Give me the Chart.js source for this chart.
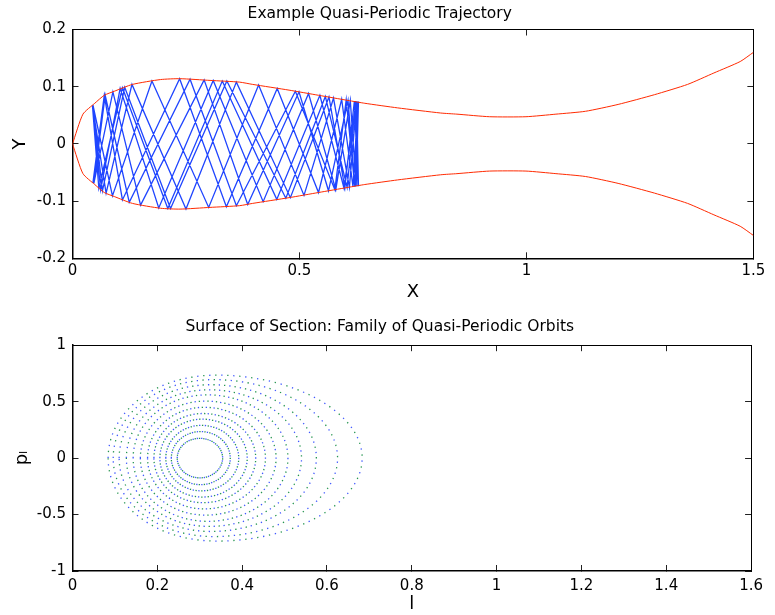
<!DOCTYPE html>
<html>
<head>
<meta charset="utf-8">
<script src="https://cdn.jsdelivr.net/npm/chart.js@4.4.1/dist/chart.umd.min.js"></script>
<style>
  body { margin: 0; background: #fff; }
  #wrap { position: relative; width: 775px; height: 615px; }
  .box { position: absolute; left: 0; width: 775px; }
  #topBox { top: 0; height: 310px; }
  #botBox { top: 310px; height: 305px; }
</style>
</head>
<body>
<div id="wrap">
  <div class="box" id="topBox"><canvas id="trajChart"></canvas></div>
  <div class="box" id="botBox"><canvas id="sectionChart"></canvas></div>
</div>
<script>
// upper wall of the channel (lower wall is the mirror image)
const wallX = [0, 0.023, 0.049, 0.070, 0.092, 0.132, 0.194, 0.237, 0.303, 0.368, 0.397, 0.477, 0.542, 0.607, 0.644, 0.716, 0.811, 0.847, 0.919, 0.999, 1.065, 1.130, 1.202, 1.282, 1.355, 1.413, 1.471, 1.5];
const wallY = [0, 0.052, 0.071, 0.085, 0.092, 0.104, 0.1125, 0.114, 0.111, 0.108, 0.104, 0.094, 0.085, 0.076, 0.071, 0.063, 0.054, 0.052, 0.0475, 0.0475, 0.052, 0.057, 0.069, 0.086, 0.104, 0.124, 0.144, 0.16];

// trajectory: bounce points on the walls, in order
const trajX = [
  0.045, 0.070, 0.110, 0.236, 0.339, 0.451, 0.542, 0.593, 0.618, 0.629,
  0.622, 0.607, 0.564, 0.499, 0.386, 0.290, 0.150, 0.089, 0.047,
  0.072, 0.125, 0.259, 0.361, 0.491, 0.578, 0.603, 0.622, 0.630,
  0.625, 0.612, 0.580, 0.520, 0.420, 0.310, 0.190, 0.105, 0.062, 0.044,
  0.074, 0.131, 0.250, 0.361, 0.480, 0.565, 0.600, 0.621, 0.629,
  0.624, 0.605, 0.557, 0.470, 0.340, 0.216, 0.115, 0.066, 0.045,
  0.088, 0.175, 0.300, 0.410, 0.510, 0.575, 0.610, 0.626, 0.630,
  0.625, 0.598, 0.545, 0.450, 0.330, 0.210, 0.110, 0.058, 0.044
];
const trajY = [
  -0.068, 0.085, -0.098, 0.114, -0.110, 0.097, -0.085, 0.078, -0.075, 0.074,
  -0.075, 0.076, -0.082, 0.091, -0.106, 0.112, -0.107, 0.091, -0.069,
  0.085, -0.102, 0.113, -0.108, 0.092, -0.080, 0.077, -0.075, 0.074,
  -0.074, 0.076, -0.080, 0.088, -0.101, 0.111, -0.112, 0.097, -0.080, 0.067,
  -0.086, 0.104, -0.114, 0.108, -0.094, 0.082, -0.077, 0.075, -0.074,
  0.075, -0.076, 0.083, -0.095, 0.110, -0.113, 0.099, -0.082, 0.068,
  -0.091, 0.110, -0.111, 0.103, -0.090, 0.080, -0.076, 0.074, -0.074,
  0.074, -0.077, 0.085, -0.097, 0.110, -0.113, 0.098, -0.077, 0.067
];

// surface of section: one ring per orbit (left end, right end, top point)
const ringLeft  = [0.247, 0.233, 0.220, 0.206, 0.192, 0.177, 0.160, 0.143, 0.127, 0.110, 0.096, 0.084];
const ringRight = [0.354, 0.372, 0.392, 0.412, 0.432, 0.455, 0.480, 0.508, 0.540, 0.575, 0.625, 0.683];
const ringTopL  = [0.300, 0.302, 0.304, 0.306, 0.308, 0.311, 0.314, 0.318, 0.322, 0.327, 0.333, 0.340];
const ringTopP  = [0.175, 0.235, 0.290, 0.345, 0.395, 0.450, 0.505, 0.560, 0.605, 0.650, 0.695, 0.735];

// tick labels
const trajXTicks = [0, 0.5, 1, 1.5];
const trajYTicks = [-0.2, -0.1, 0, 0.1, 0.2];
const secXTicks = [0, 0.2, 0.4, 0.6, 0.8, 1, 1.2, 1.4, 1.6];
const secYTicks = [-1, -0.5, 0, 0.5, 1];

const FAMILY = "'DejaVu Sans', sans-serif";
const FONT = { family: FAMILY, size: 15 };
const LABEL_FONT = { family: FAMILY, size: 18 };
const fmt = v => String(Number(Number(v).toFixed(2)));

// makes a line dataset a closed smooth loop
const closeLoop = {
  id: 'closeLoop',
  afterDatasetUpdate(chart, args) {
    const ds = chart.data.datasets[args.index];
    if (!ds.closed) return;
    const line = args.meta.dataset;
    if (!line) return;
    line._loop = true;
    line._fullLoop = true;
    line._segments = undefined;
    line._pointsUpdated = false;
  }
};

function axis(pos, min, max, ticks, opts) {
  const horiz = pos === 'top' || pos === 'bottom';
  const main = pos === 'bottom' || pos === 'left';
  return {
    type: 'linear',
    position: pos,
    min: min,
    max: max,
    afterBuildTicks: s => { s.ticks = ticks.map(v => ({ value: v })); },
    ticks: { display: main, font: FONT, color: '#000', padding: opts.pad || 0, callback: fmt, maxRotation: 0, autoSkip: false },
    grid: { drawOnChartArea: false, drawTicks: true, tickLength: -6, color: '#222', lineWidth: 1 },
    border: { display: true, color: '#000', width: main ? 1.5 : 1 },
    title: opts.title ? { display: true, text: opts.title, font: LABEL_FONT, color: '#000', padding: opts.titlePad } : { display: false },
    afterFit: s => { if (horiz) s.height = opts.size; else s.width = opts.size; }
  };
}

function baseOptions(title, titlePad, scales) {
  return {
    animation: false,
    responsive: true,
    maintainAspectRatio: false,
    layout: { padding: { left: 0, right: 15.5, top: 0, bottom: 0 } },
    plugins: {
      legend: { display: false },
      tooltip: { enabled: false },
      title: { display: true, text: title, font: { family: FAMILY, size: 15.5, weight: 'normal' }, color: '#000', padding: titlePad }
    },
    elements: { point: { radius: 0 } },
    scales: scales
  };
}

// top chart
const upper = wallX.map((x, i) => ({ x: x, y: wallY[i] }));
const lower = wallX.map((x, i) => ({ x: x, y: -wallY[i] }));
const path = trajX.map((x, i) => ({ x: x, y: trajY[i] }));

new Chart(document.querySelector('#trajChart'), {
  type: 'scatter',
  data: {
    datasets: [
      { data: upper, showLine: true, borderColor: '#ff2a00', borderWidth: 1, tension: 0.2, order: 0 },
      { data: lower, showLine: true, borderColor: '#ff2a00', borderWidth: 1, tension: 0.2, order: 0 },
      { data: path, showLine: true, borderColor: '#1f45ff', borderWidth: 1.3, tension: 0, order: 1 }
    ]
  },
  options: baseOptions('Example Quasi-Periodic Trajectory', { top: 4.8, bottom: 6.1 }, {
    x: axis('bottom', 0, 1.5, trajXTicks, { pad: 9.7, size: 51.7, title: 'X', titlePad: { top: 0, bottom: 7.2 } }),
    x2: axis('top', 0, 1.5, trajXTicks, { size: 0 }),
    y: axis('left', -0.2, 0.2, trajYTicks, { pad: 12.5, size: 72.5, title: 'Y', titlePad: { top: 9.2, bottom: 0 } }),
    y2: axis('right', -0.2, 0.2, trajYTicks, { size: 0 })
  }),
  plugins: [closeLoop]
});

// bottom chart
const ringSets = [];
ringLeft.forEach((l0, i) => {
  const pts = [
    { x: l0, y: 0 },
    { x: ringTopL[i], y: ringTopP[i] },
    { x: ringRight[i], y: 0 },
    { x: ringTopL[i], y: -ringTopP[i] }
  ];
  const gap = 3 + i * 0.7;
  ringSets.push({ data: pts, closed: true, showLine: true, tension: 0.55, borderWidth: 1.3,
    borderColor: 'rgba(30,60,255,0.85)', borderDash: [1.3, gap], borderDashOffset: 0 });
  ringSets.push({ data: pts, closed: true, showLine: true, tension: 0.55, borderWidth: 1.3,
    borderColor: 'rgba(0,130,50,0.85)', borderDash: [1.3, gap], borderDashOffset: (1.3 + gap) / 2 });
});

new Chart(document.querySelector('#sectionChart'), {
  type: 'scatter',
  data: { datasets: ringSets },
  options: baseOptions('Surface of Section: Family of Quasi-Periodic Orbits', { top: 7.8, bottom: 8.8 }, {
    x: axis('bottom', 0, 1.6, secXTicks, { pad: 12, size: 44, title: 'l', titlePad: { top: 0, bottom: 0.2 } }),
    x2: axis('top', 0, 1.6, secXTicks, { size: 0 }),
    y: axis('left', -1, 1, secYTicks, { pad: 12.5, size: 72.5, title: 'p\u2097', titlePad: { top: 11.7, bottom: 0 } }),
    y2: axis('right', -1, 1, secYTicks, { size: 0 })
  }),
  plugins: [closeLoop]
});
</script>
</body>
</html>
